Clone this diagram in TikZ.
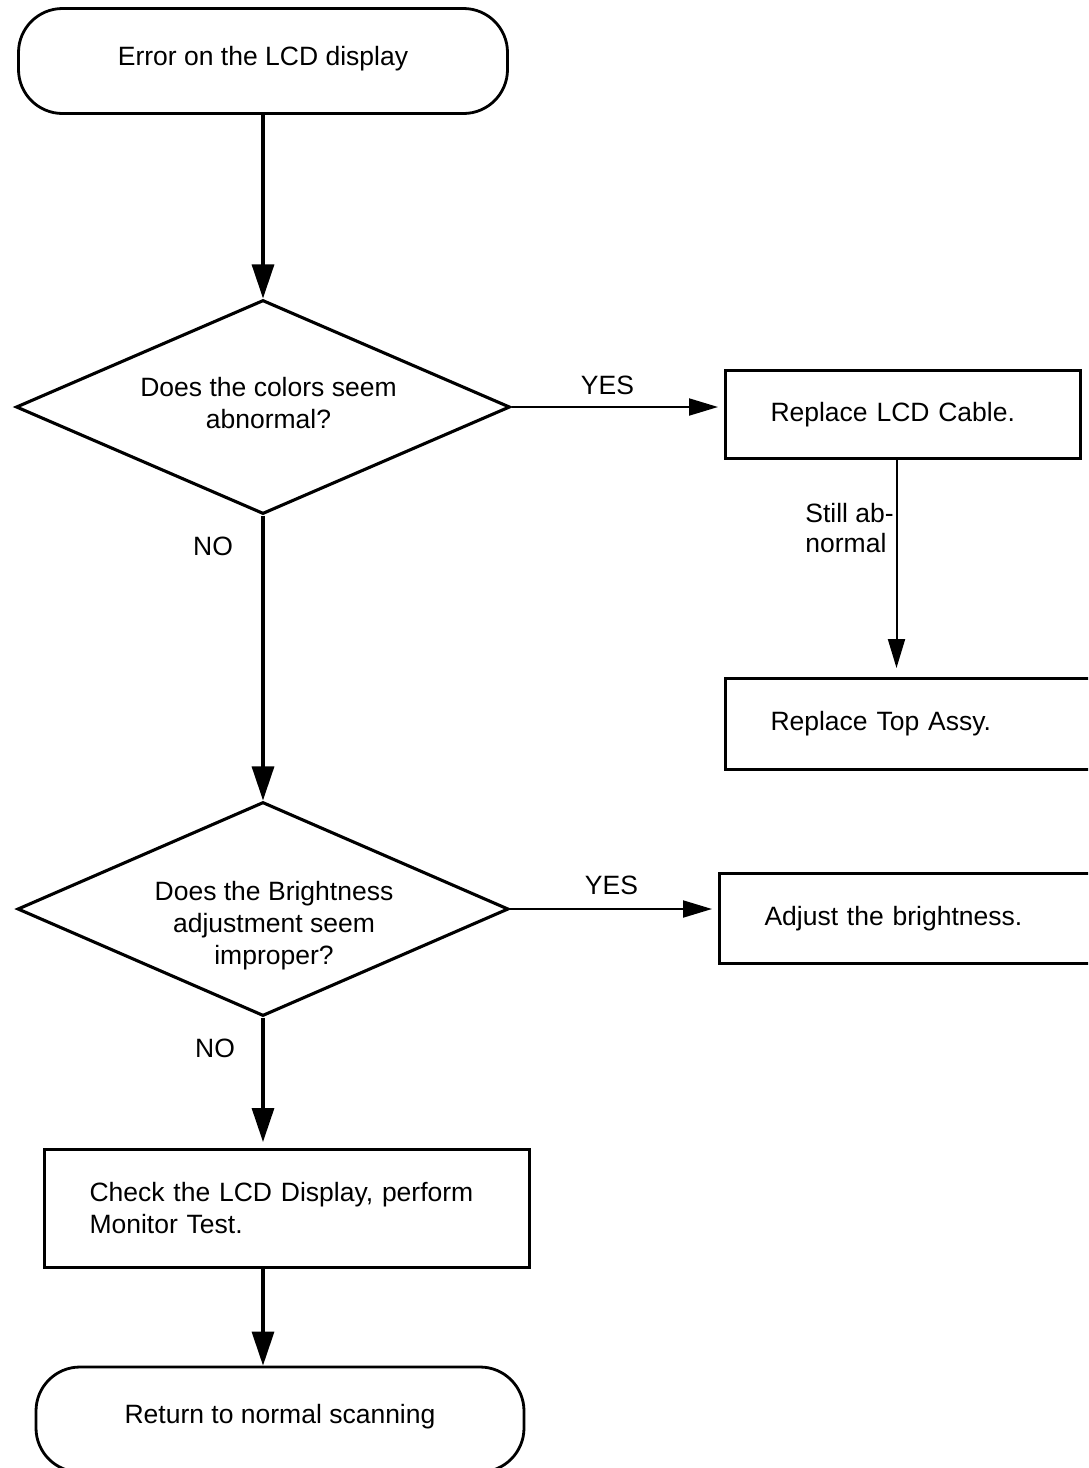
\documentclass[tikz,border=0pt]{standalone}
\usepackage{fontspec}
\setmainfont{Liberation Sans}
\usepackage{tikz}
\usetikzlibrary{shapes.geometric, arrows.meta, positioning}

\begin{document}
\begin{tikzpicture}[
    x=0.5pt, y=-0.5pt,
    term/.style={rectangle, draw=black, line width=1.4pt, rounded corners=22pt, minimum height=52.5pt, text depth=5.6pt, font=\fontsize{13.25}{16}\selectfont},
    decision/.style={diamond, draw=black, line width=1.55pt, inner sep=0pt},
    proc/.style={rectangle, draw=black, line width=1.5pt, inner xsep=22.5pt, align=left, anchor=north west, font=\fontsize{13.25}{16}\selectfont},
    txt/.style={inner sep=0pt, align=center, font=\fontsize{13.25}{16}\selectfont},
    flow/.style={draw=black, line width=1.6pt, -{Triangle[length=17pt, width=11pt]}},
    side/.style={draw=black, line width=1pt, -{Triangle[length=14.5pt, width=8.5pt]}}
]
\path[use as bounding box, clip] (0,0) rectangle (1088,1468);

\node[term, minimum width=244.5pt] (start) at (263,61) {Error on the LCD display};
\node[decision, minimum width=247pt, minimum height=107pt] (q1) at (263,407) {};
\node[txt] (q1txt) at (268.5,403) {Does the colors seem\\abnormal?};
\node[proc, text width=132.5pt, minimum height=44pt] (cable) at (724,369) {Replace LCD Cable.};
\node[proc, text width=143pt, minimum height=45.5pt] (topassy) at (724,677) {Replace Top Assy.};
\node[decision, minimum width=245.5pt, minimum height=107pt] (q2) at (263,909) {};
\node[txt] (q2txt) at (274,926) {Does the Brightness\\adjustment seem\\improper?};
\node[proc, text width=146pt, minimum height=45pt] (adjust) at (718,872) {Adjust the brightness.};
\node[proc, text width=197.5pt, minimum height=59pt] (check) at (43,1148) {Check the LCD Display, perform\\Monitor Test.};
\node[term, minimum width=244pt] (stop) at (280,1419.5) {Return to normal scanning};

% branch labels
\node[txt] (yes1) at (607.5,385) {YES};
\node[txt] (no1) at (213,546) {NO};
\node[txt, align=left, anchor=west, font=\fontsize{13.25}{15}\selectfont] (still) at (805,528) {Still ab-\\normal};
\node[txt] (yes2) at (611.5,885) {YES};
\node[txt] (no2) at (215,1048) {NO};

\draw[flow] (start) -- (q1);
\draw[flow] (q1) -- (q2);
\draw[flow, shorten >=3pt] (q2.south) -- (q2.south |- check.north);
\draw[flow] (q2.south |- check.south) -- (q2.south |- stop.north);
\draw[side, shorten >=3pt] (q1.east) -- (q1.east -| cable.west);
\draw[side, shorten >=4.5pt] ([xshift=-3.25pt]cable.south) -- ([xshift=-3.25pt]cable.south |- topassy.north);
\draw[side, shorten >=3pt] (q2.east) -- (q2.east -| adjust.west);

\end{tikzpicture}
\end{document}
